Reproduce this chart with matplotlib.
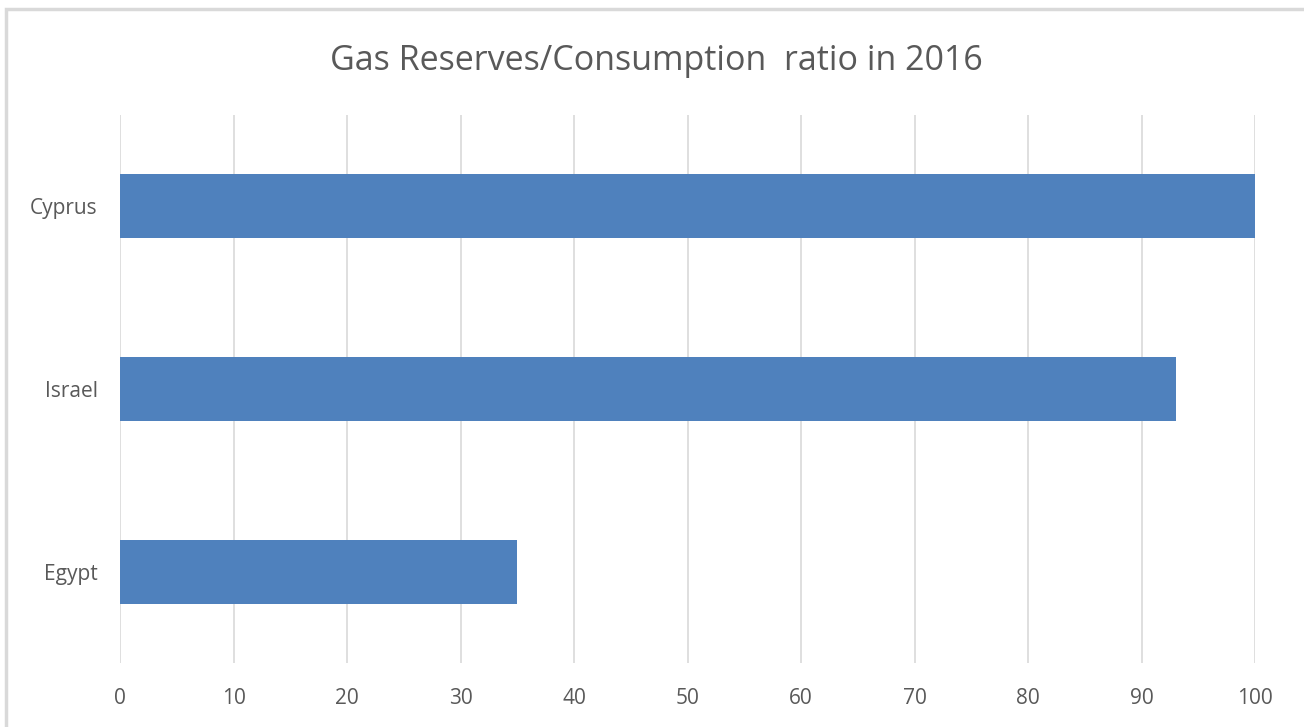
import matplotlib.pyplot as plt
from matplotlib.patches import Rectangle

countries = ["Egypt", "Israel", "Cyprus"]
ratios = [35, 93, 100]
xticks = list(range(0, 101, 10))

plt.rcParams['font.family'] = ['Open Sans', 'DejaVu Sans']

fig = plt.figure(figsize=(13.04, 7.27), dpi=100)
ax = fig.add_axes([120 / 1304, 1 - 663 / 727, 1135 / 1304, 548 / 727])

# outer chart frame (right/bottom run off the image)
fig.patches.append(Rectangle((6 / 1304, -0.05), 1.2, 1 - 9 / 727 + 0.05,
                             transform=fig.transFigure, fill=False,
                             edgecolor='#d9d9d9', linewidth=2.5))

ax.barh(range(len(countries)), ratios, height=0.35, color='#4f81bd', zorder=3)

ax.set_xlim(0, 100)
ax.set_ylim(-0.5, len(countries) - 0.5)
ax.set_xticks(xticks)
ax.set_yticks(range(len(countries)))
ax.set_yticklabels(countries)
ax.xaxis.grid(True, color='#d9d9d9', linewidth=1.2, zorder=0)
ax.tick_params(axis='both', length=0, labelsize=15, labelcolor='#595959')
ax.tick_params(axis='x', pad=18)
ax.tick_params(axis='y', pad=16)
for s in ax.spines.values():
    s.set_visible(False)

fig.text(656 / 1304, 1 - 61 / 727, "Gas Reserves/Consumption  ratio in 2016",
         ha='center', va='center', fontsize=24.5, color='#595959')

fig.savefig("out.png", dpi=100)
